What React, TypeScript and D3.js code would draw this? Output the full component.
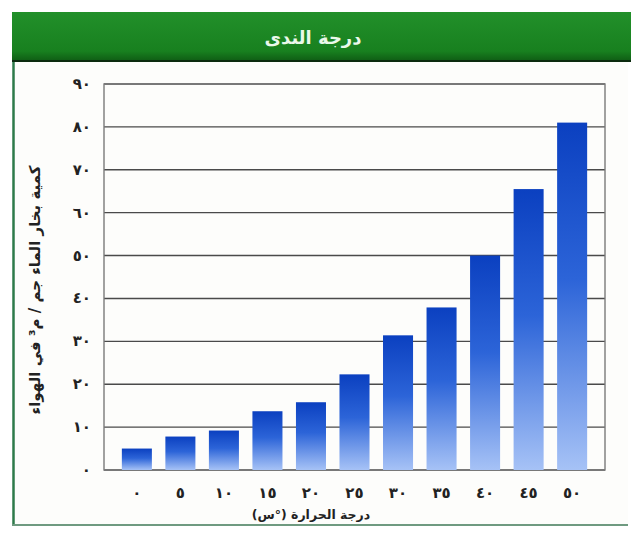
import React from "react";
import * as d3 from "d3";

const categories: number[] = [0, 5, 10, 15, 20, 25, 30, 35, 40, 45, 50];
const xLabels: string[] = ["٠", "٥", "١٠", "١٥", "٢٠", "٢٥", "٣٠", "٣٥", "٤٠", "٤٥", "٥٠"];
const values: number[] = [5, 7.8, 9.2, 13.7, 15.8, 22.3, 31.4, 37.9, 50, 65.5, 81];
const yTicks: number[] = [0, 10, 20, 30, 40, 50, 60, 70, 80, 90];
const yTickLabels: string[] = ["٠", "١٠", "٢٠", "٣٠", "٤٠", "٥٠", "٦٠", "٧٠", "٨٠", "٩٠"];
const title = "درجة الندى";
const xTitle = "درجة الحرارة (°س)";
const yTitle = "كمية بخار الماء جم / م³ في الهواء";

const W = 631;
const H = 533;
const plot = { left: 104, right: 605, top: 84, bottom: 470 };
const FONT = "'DejaVu Sans', sans-serif";

export default function App() {
  const x = d3
    .scaleBand<number>()
    .domain(categories)
    .range([plot.left, plot.right])
    .paddingInner(0.31)
    .paddingOuter(0.41);
  const y = d3.scaleLinear().domain([0, 90]).range([plot.bottom, plot.top]);

  return (
    <svg
      width={W}
      height={H}
      style={{ position: "absolute", left: 0, top: 0, background: "#fff" }}
    >
      <defs>
        <linearGradient id="barGrad" x1="0" y1="0" x2="0" y2="1">
          <stop offset="0%" stopColor="#0b40c0" />
          <stop offset="45%" stopColor="#2c64d8" />
          <stop offset="100%" stopColor="#a6c2f6" />
        </linearGradient>
        <linearGradient id="hdrGrad" x1="0" y1="0" x2="0" y2="1">
          <stop offset="0%" stopColor="#22902a" />
          <stop offset="80%" stopColor="#18801f" />
          <stop offset="100%" stopColor="#0f5c14" />
        </linearGradient>
      </defs>

      {/* frame */}
      <rect x={12} y={12} width={616} height={513} fill="#fdfdfb" stroke="none" />
      <line x1={13.5} y1={12} x2={13.5} y2={526} stroke="#2d7a4a" strokeWidth={2.5} />
      <line x1={12} y1={525} x2={628} y2={525} stroke="#6f9a80" strokeWidth={2} />

      {/* header */}
      <rect x={12} y={12} width={619} height={49} fill="url(#hdrGrad)" />
      <line x1={12} y1={61} x2={631} y2={61} stroke="#0b2a0e" strokeWidth={2} />
      <text
        x={313}
        y={44}
        textAnchor="middle"
        direction="rtl"
        fill="#eaf8ea"
        fontFamily={FONT}
        fontWeight="bold"
        fontSize={18}
      >
        {title}
      </text>

      {/* gridlines */}
      {yTicks.map((t) => (
        <line
          key={"g" + t}
          x1={plot.left}
          x2={plot.right}
          y1={y(t)}
          y2={y(t)}
          stroke="#4a4a4a"
          strokeWidth={1.4}
        />
      ))}

      {/* plot border */}
      <rect
        x={plot.left}
        y={plot.top}
        width={plot.right - plot.left}
        height={plot.bottom - plot.top}
        fill="none"
        stroke="#7a7a7a"
        strokeWidth={1.4}
      />

      {/* bars */}
      {categories.map((c, i) => (
        <rect
          key={"b" + c}
          x={x(c)}
          y={y(values[i])}
          width={x.bandwidth()}
          height={y(0) - y(values[i])}
          fill="url(#barGrad)"
        />
      ))}

      {/* y tick labels */}
      {yTicks.map((t, i) => (
        <text
          key={"yl" + t}
          x={91}
          y={y(t) + 5}
          textAnchor="end"
          fill="#222"
          fontFamily={FONT}
          fontWeight="bold"
          fontSize={15}
        >
          {yTickLabels[i]}
        </text>
      ))}

      {/* x tick labels */}
      {categories.map((c, i) => (
        <text
          key={"xl" + c}
          x={(x(c) as number) + x.bandwidth() / 2}
          y={498}
          textAnchor="middle"
          fill="#222"
          fontFamily={FONT}
          fontWeight="bold"
          fontSize={15}
        >
          {xLabels[i]}
        </text>
      ))}

      {/* axis titles */}
      <text
        x={311}
        y={519}
        textAnchor="middle"
        direction="rtl"
        fill="#222"
        fontFamily={FONT}
        fontWeight="bold"
        fontSize={12.5}
      >
        {xTitle}
      </text>
      <text
        transform={`translate(40, 290) rotate(-90)`}
        textAnchor="middle"
        direction="rtl"
        fill="#222"
        fontFamily={FONT}
        fontWeight="bold"
        fontSize={15}
      >
        {yTitle}
      </text>
    </svg>
  );
}
